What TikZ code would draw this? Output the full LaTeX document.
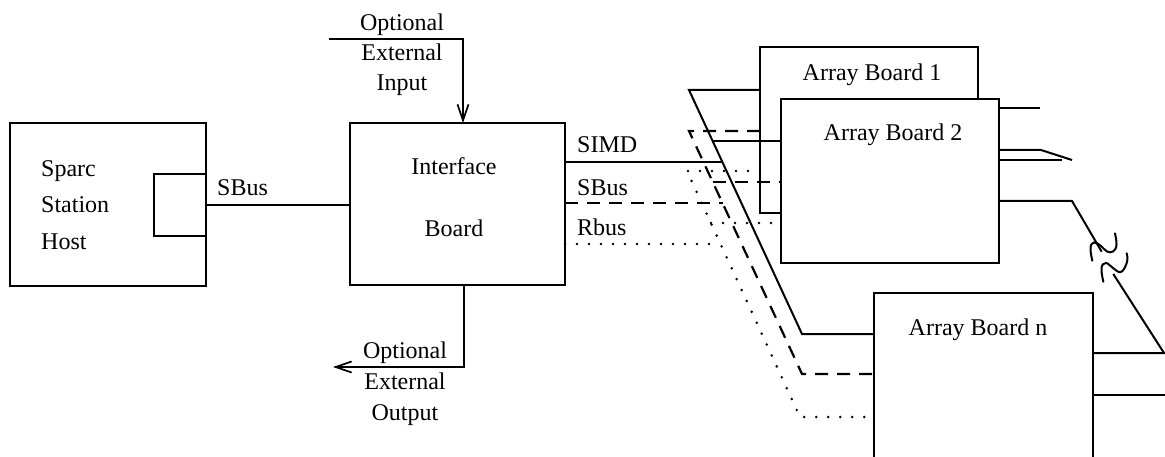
\documentclass[tikz,border=0pt]{standalone}
\usepackage{fontspec}
\setmainfont{Liberation Serif}
\usetikzlibrary{arrows.meta}
\begin{document}
\begin{tikzpicture}[x=1pt,y=-1pt,
  every node/.style={font=\fontsize{24pt}{29pt}\selectfont},
  box/.style={draw, line width=2pt, fill=white, inner sep=0pt, outer sep=0pt},
  txt/.style={inner sep=0pt},
  wire/.style={line width=2pt},
  dashbus/.style={line width=2.2pt, dash pattern=on 13pt off 9pt},
  dotbus/.style={line width=2.8pt, line cap=round, dash pattern=on 0pt off 12pt},
  ext/.style={line width=1.7pt, -{Straight Barb[length=16pt,width=11pt]}}
]
\useasboundingbox (0,0) rectangle (1165,457);
\clip (0,0) rectangle (1165,457);

% host workstation with its SBus slot
\node[box, minimum width=196pt, minimum height=163pt] (host) at (108,204.5) {};
\node[box, minimum width=52pt, minimum height=62pt] (port) at (180,205) {};
\node[txt, align=left, anchor=west, font=\fontsize{24pt}{36.5pt}\selectfont] (hostlbl) at (41,205) {Sparc\\Station\\Host};

% interface board
\node[box, minimum width=215pt, minimum height=162pt] (iface) at (457.5,204) {};
\node[txt, align=center, font=\fontsize{24pt}{62pt}\selectfont] (ifacelbl) at (454,197) {Interface\\Board};

% array boards
\node[box, minimum width=218pt, minimum height=166pt] (b1) at (869,130) {};
\node[txt] (b1lbl) at (872,74.4) {Array Board 1};
\node[box, minimum width=218pt, minimum height=164pt] (b2) at (890,181) {};
\node[txt] (b2lbl) at (893,134.4) {Array Board 2};
\node[box, minimum width=219pt, minimum height=180pt] (bn) at (983.5,383) {};
\node[txt] (bnlbl) at (978,329.4) {Array Board n};

% host to interface
\draw[wire] (port.east) -- (port.east -| iface.west);
\node[txt, anchor=west] (sbuslbl) at (217,188) {SBus};

% optional external input / output
\coordinate (inStart) at (329,39);
\coordinate (inBend) at (463,39);
\draw[ext] (inStart) -- (inBend) -- (inBend |- iface.north);
\node[txt, align=center, font=\fontsize{24pt}{30pt}\selectfont] (inlbl) at (402,54.5) {Optional\\External\\Input};
\coordinate (outBend) at (464,367);
\coordinate (outEnd) at (333,367);
\draw[ext] (outBend |- iface.south) -- (outBend) -- (outEnd);
\node[txt, align=center, font=\fontsize{24pt}{31pt}\selectfont] (outlbl) at (405,383.5) {Optional\\External\\Output};

% bus labels
\node[txt, anchor=west] (simdlbl) at (577,145) {SIMD};
\node[txt, anchor=west] (sbus2lbl) at (577,188) {SBus};
\node[txt, anchor=west] (rbuslbl) at (577,227) {Rbus};

% SIMD bus (solid)
\coordinate (sT) at (689,90);
\coordinate (sB) at (802,334);
\coordinate (sJ) at (722,162);
\coordinate (sK) at (712.6,141);
\draw[wire] (b1.west |- sT) -- (sT) -- (sB) -- (sB -| bn.west);
\draw[wire] (sJ -| iface.east) -- (sJ);
\draw[wire] (sK) -- (sK -| b2.west);

% SBus (dashed)
\coordinate (dT) at (689,131);
\coordinate (dB) at (802,374);
\coordinate (dJ) at (722.5,203);
\coordinate (dK) at (712.7,182);
\draw[dashbus] (b1.west |- dT) -- (dT) -- (dB) -- (dB -| bn.west);
\draw[dashbus] (dJ -| iface.east) -- (dJ);
\draw[dashbus] (dK) -- (dK -| b2.west);

% Rbus (dotted)
\coordinate (oT) at (687,171);
\coordinate (oB) at (800,417);
\coordinate (oJ) at (720.5,244);
\coordinate (oK) at (710.9,223);
\draw[dotbus] (b1.west |- oT) -- (oT) -- (oB) -- (oB -| bn.west);
\draw[dotbus] (oJ -| iface.east) -- (oJ);
\draw[dotbus] (oK) -- (oK -| b2.west);

% links on the right of the boards
\coordinate (r1) at (1040,108);
\draw[wire] (r1 -| b2.east) -- (r1);
\coordinate (w1) at (1041,150);
\coordinate (w2) at (1072,160);
\coordinate (w3) at (1062,160);
\draw[wire] (w1 -| b2.east) -- (w1) -- (w2);
\draw[wire] (w3 -| b2.east) -- (w3);

\coordinate (c1) at (1072,201);
\coordinate (c2) at (1101.7,251.7);
\coordinate (c3) at (1113.3,274);
\coordinate (c4) at (1164,353);
\draw[wire] (c1 -| b2.east) -- (c1) -- (c2);
\draw[wire] (c3) -- (c4) -- (c4 -| bn.east);
% break marks
\draw[wire, line cap=round] plot[smooth, tension=0.7] coordinates {(1092.3,260.7) (1090.5,248) (1094,242.5) (1101,246) (1107,251.5) (1113,251.5) (1116.5,245) (1115,233.3)};
\draw[wire, line cap=round] plot[smooth, tension=0.7] coordinates {(1103.3,281.7) (1101.5,268) (1106,263) (1113,268) (1121,272) (1127,262) (1126.7,253.3)};

\coordinate (e1) at (1165,395);
\draw[wire] (e1 -| bn.east) -- (e1);
\end{tikzpicture}
\end{document}
